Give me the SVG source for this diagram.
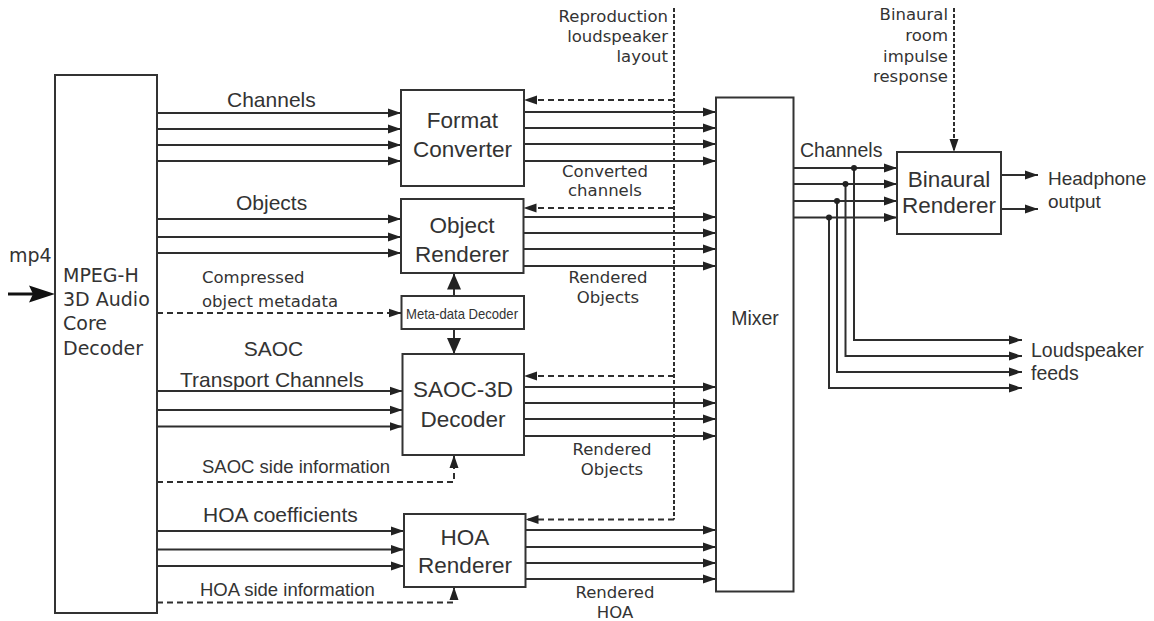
<svg xmlns="http://www.w3.org/2000/svg" width="1154" height="621" viewBox="0 0 1154 621">
<defs>
<style>
.box{fill:#fff;stroke:#333;stroke-width:2}
.ln{fill:none;stroke:#2e2e2e;stroke-width:2}
.ds{fill:none;stroke:#2e2e2e;stroke-width:2;stroke-dasharray:6 4}
.dt{fill:none;stroke:#2e2e2e;stroke-width:2;stroke-dasharray:4 2}
.a{marker-end:url(#ah)}
.ab{marker-end:url(#big)}
.t{font-family:"Liberation Sans",Arial,sans-serif;fill:#333}
.d{font-family:"DejaVu Sans",Verdana,sans-serif;fill:#333}
.lbl{font-size:21px}
.bx{font-size:22.5px;text-anchor:middle}
.sm{font-size:16.5px}
.mid{text-anchor:middle}
.end{text-anchor:end}
</style>
<marker id="ah" markerUnits="userSpaceOnUse" markerWidth="14" markerHeight="10" refX="13" refY="5" orient="auto">
<path d="M0,0.5 L13,5 L0,9.5 z" fill="#222"/>
</marker>
<marker id="big" markerUnits="userSpaceOnUse" markerWidth="17" markerHeight="15" refX="16" refY="7" orient="auto">
<path d="M0,0 L16,7 L0,14 z" fill="#222"/>
</marker>
</defs>

<g id="connectors">
<!-- mp4 input -->
<g id="mp4-arrow">
<line x1="8" y1="294" x2="34" y2="294" stroke="#111" stroke-width="3"/>
<polygon points="29,285.5 55,294 29,302.5 33,294" fill="#111"/>
</g>
<!-- channels -->
<line class="ln a" x1="157" y1="113" x2="401" y2="113"/>
<line class="ln a" x1="157" y1="129" x2="401" y2="129"/>
<line class="ln a" x1="157" y1="145" x2="401" y2="145"/>
<line class="ln a" x1="157" y1="161" x2="401" y2="161"/>
<!-- objects -->
<line class="ln a" x1="157" y1="219" x2="401" y2="219"/>
<line class="ln a" x1="157" y1="237" x2="401" y2="237"/>
<line class="ln a" x1="157" y1="253" x2="401" y2="253"/>
<!-- compressed metadata -->
<line class="ds a" x1="157" y1="313" x2="401.5" y2="313"/>
<!-- SAOC transport -->
<line class="ln a" x1="157" y1="391" x2="402.5" y2="391"/>
<line class="ln a" x1="157" y1="410" x2="402.5" y2="410"/>
<line class="ln a" x1="157" y1="426.5" x2="402.5" y2="426.5"/>
<!-- SAOC side info -->
<path class="ds a" d="M157,482 H454 V455"/>
<!-- HOA coefficients -->
<line class="ln a" x1="157" y1="531" x2="404" y2="531"/>
<line class="ln a" x1="157" y1="549.5" x2="404" y2="549.5"/>
<line class="ln a" x1="157" y1="566" x2="404" y2="566"/>
<!-- HOA side info -->
<path class="ds a" d="M157,602.5 H454 V587"/>
<!-- meta-data decoder arrows -->
<line class="ln ab" x1="454" y1="296" x2="454" y2="273.5"/>
<line class="ln ab" x1="454" y1="329" x2="454" y2="354"/>
<!-- format converter outputs -->
<line class="ln a" x1="524" y1="112" x2="716" y2="112"/>
<line class="ln a" x1="524" y1="128" x2="716" y2="128"/>
<line class="ln a" x1="524" y1="144" x2="716" y2="144"/>
<line class="ln a" x1="524" y1="161" x2="716" y2="161"/>
<!-- object renderer outputs -->
<line class="ln a" x1="523.5" y1="217" x2="716" y2="217"/>
<line class="ln a" x1="523.5" y1="233" x2="716" y2="233"/>
<line class="ln a" x1="523.5" y1="249" x2="716" y2="249"/>
<line class="ln a" x1="523.5" y1="266" x2="716" y2="266"/>
<!-- SAOC-3D outputs -->
<line class="ln a" x1="524" y1="387" x2="716" y2="387"/>
<line class="ln a" x1="524" y1="403" x2="716" y2="403"/>
<line class="ln a" x1="524" y1="419" x2="716" y2="419"/>
<line class="ln a" x1="524" y1="436" x2="716" y2="436"/>
<!-- HOA renderer outputs -->
<line class="ln a" x1="525.5" y1="530" x2="716" y2="530"/>
<line class="ln a" x1="525.5" y1="547" x2="716" y2="547"/>
<line class="ln a" x1="525.5" y1="563" x2="716" y2="563"/>
<line class="ln a" x1="525.5" y1="579" x2="716" y2="579"/>
<!-- reproduction loudspeaker layout -->
<line class="dt" x1="674" y1="8" x2="674" y2="519.5"/>
<line class="ds a" x1="674" y1="100" x2="524" y2="100"/>
<line class="ds a" x1="674" y1="208" x2="523.5" y2="208"/>
<line class="ds a" x1="674" y1="376" x2="524" y2="376"/>
<line class="ds a" x1="674" y1="519.5" x2="525.5" y2="519.5"/>
<!-- mixer outputs to binaural -->
<line class="ln a" x1="793.5" y1="168" x2="897" y2="168"/>
<line class="ln a" x1="793.5" y1="184" x2="897" y2="184"/>
<line class="ln a" x1="793.5" y1="201" x2="897" y2="201"/>
<line class="ln a" x1="793.5" y1="217.5" x2="897" y2="217.5"/>
<!-- loudspeaker feeds -->
<path class="ln a" d="M854,168 V340 H1022"/>
<path class="ln a" d="M845.5,184 V356 H1022"/>
<path class="ln a" d="M837,201 V372 H1022"/>
<path class="ln a" d="M829,217.5 V388 H1022"/>
<circle cx="854" cy="168" r="3" fill="#222"/>
<circle cx="845.5" cy="184" r="3" fill="#222"/>
<circle cx="837" cy="201" r="3" fill="#222"/>
<circle cx="829" cy="217.5" r="3" fill="#222"/>
<!-- BRIR -->
<line class="dt a" x1="954" y1="8" x2="954" y2="152"/>
<!-- headphone outputs -->
<line class="ln a" x1="1001" y1="175" x2="1038" y2="175"/>
<line class="ln a" x1="1001" y1="209" x2="1038" y2="209"/>
</g>

<g id="core-decoder">
<rect class="box" x="55" y="75" width="102" height="538"/>
<text class="d" font-size="19" x="63" y="282">MPEG-H</text>
<text class="d" font-size="19" x="63" y="306">3D Audio</text>
<text class="d" font-size="19" x="63" y="330">Core</text>
<text class="d" font-size="19" x="63" y="355">Decoder</text>
</g>
<g id="mp4-label"><text class="d" font-size="19" x="9" y="262">mp4</text></g>

<g id="format-converter">
<rect class="box" x="401" y="90" width="123" height="96"/>
<text class="t bx" x="462.5" y="128">Format</text>
<text class="t bx" x="462.5" y="157">Converter</text>
</g>
<g id="object-renderer">
<rect class="box" x="401" y="199" width="122.5" height="74"/>
<text class="t bx" x="462" y="233">Object</text>
<text class="t bx" x="462" y="262">Renderer</text>
</g>
<g id="metadata-decoder">
<rect class="box" x="401.5" y="296" width="122.5" height="33"/>
<text class="t" font-size="14.5" x="406" y="318.5" textLength="112" lengthAdjust="spacingAndGlyphs">Meta-data Decoder</text>
</g>
<g id="saoc-decoder">
<rect class="box" x="402.5" y="354" width="121.5" height="101"/>
<text class="t bx" x="463" y="397">SAOC-3D</text>
<text class="t bx" x="463" y="427">Decoder</text>
</g>
<g id="hoa-renderer">
<rect class="box" x="404" y="514" width="121.5" height="73"/>
<text class="t bx" x="465" y="545">HOA</text>
<text class="t bx" x="465" y="573">Renderer</text>
</g>
<g id="mixer">
<rect class="box" x="716" y="97.5" width="77.5" height="494"/>
<text class="t mid" font-size="19.5" x="755" y="325">Mixer</text>
</g>
<g id="binaural-renderer">
<rect class="box" x="897" y="152" width="104" height="82"/>
<text class="t bx" x="949" y="187">Binaural</text>
<text class="t bx" x="949" y="213">Renderer</text>
</g>

<g id="labels">
<text class="t lbl" x="227" y="107">Channels</text>
<text class="t lbl" x="236" y="210">Objects</text>
<text class="d sm" x="202" y="283">Compressed</text>
<text class="d sm" x="202" y="306.5">object metadata</text>
<text class="t lbl mid" x="273.5" y="356">SAOC</text>
<text class="t lbl" x="180" y="386.5">Transport Channels</text>
<text class="t" font-size="18.5" x="202" y="472.5">SAOC side information</text>
<text class="t lbl" x="203" y="521.5">HOA coefficients</text>
<text class="t" font-size="18.5" x="200" y="596">HOA side information</text>
<text class="d sm end" x="668" y="22">Reproduction</text>
<text class="d sm end" x="668" y="42">loudspeaker</text>
<text class="d sm end" x="668" y="62">layout</text>
<text class="d sm mid" x="605" y="177">Converted</text>
<text class="d sm mid" x="605" y="195.5">channels</text>
<text class="d sm mid" x="608" y="283">Rendered</text>
<text class="d sm mid" x="608" y="303">Objects</text>
<text class="d sm mid" x="612" y="455">Rendered</text>
<text class="d sm mid" x="612" y="475">Objects</text>
<text class="d sm mid" x="615" y="598">Rendered</text>
<text class="d sm mid" x="615" y="618">HOA</text>
<text class="d sm end" x="948" y="20">Binaural</text>
<text class="d sm end" x="948" y="41">room</text>
<text class="d sm end" x="948" y="62">impulse</text>
<text class="d sm end" x="948" y="82">response</text>
<text class="t" font-size="19.5" x="800" y="157">Channels</text>
<text class="t" font-size="19" x="1048" y="185">Headphone</text>
<text class="t" font-size="19" x="1048" y="208">output</text>
<text class="t" font-size="19.5" x="1031" y="357">Loudspeaker</text>
<text class="t" font-size="19.5" x="1031" y="380">feeds</text>
</g>
</svg>
